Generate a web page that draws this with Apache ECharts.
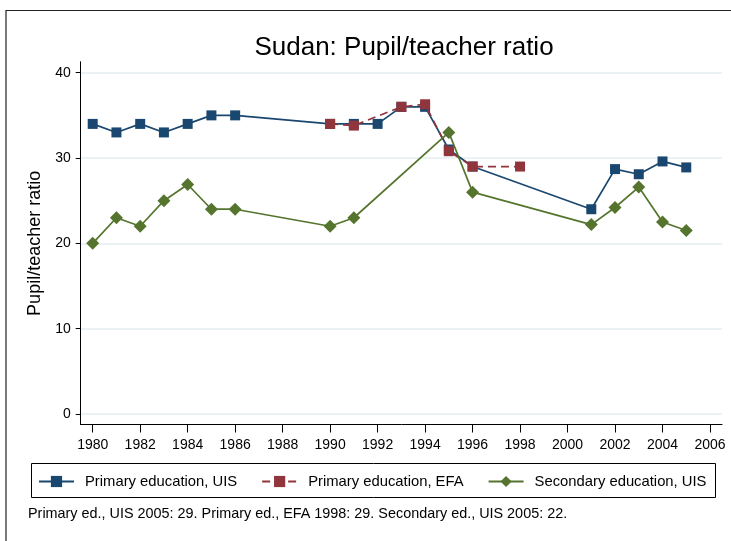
<!DOCTYPE html>
<html>
<head>
<meta charset="utf-8">
<script src="https://cdn.jsdelivr.net/npm/echarts@6/dist/echarts.min.js"></script>
<style>
  html, body { margin: 0; padding: 0; background: #fff; }
  #chart { width: 731px; height: 541px; }
</style>
</head>
<body>
<div id="chart"></div>
<script>
// 数据
const primaryUisYears = [1980, 1981, 1982, 1983, 1984, 1985, 1986, 1990, 1991, 1992, 1993, 1994, 1995, 1996, 2001, 2002, 2003, 2004, 2005];
const primaryUis = [34, 33, 34, 33, 34, 35, 35, 34, 34, 34, 36, 36, 31, 29, 24, 28.7, 28.1, 29.6, 28.9];

const primaryEfaYears = [1990, 1991, 1993, 1994, 1995, 1996, 1998];
const primaryEfa = [34, 33.8, 36, 36.3, 30.8, 29, 29];

const secondaryUisYears = [1980, 1981, 1982, 1983, 1984, 1985, 1986, 1990, 1991, 1995, 1996, 2001, 2002, 2003, 2004, 2005];
const secondaryUis = [20, 23, 22, 25, 26.9, 24, 24, 22, 23, 33, 26, 22.2, 24.2, 26.6, 22.5, 21.5];

const yTicks = [0, 10, 20, 30, 40];

const seriesNames = ['Primary education, UIS', 'Primary education, EFA', 'Secondary education, UIS'];
const note = 'Primary ed., UIS 2005: 29. Primary ed., EFA 1998: 29. Secondary ed., UIS 2005: 22.';

const FONT = '"Liberation Sans", Arial, sans-serif';
const NAVY = '#1a476f', MAROON = '#90353b', GREEN = '#55752f';

/** 年份与数值配对 */
function pairs(xs, ys) {
	return xs.map((x, i) => [x, ys[i]]);
}

const chart = echarts.init(document.getElementById('chart'), null, { renderer: 'canvas' });

const option = {
	animation: false,
	backgroundColor: '#fff',
	textStyle: { fontFamily: FONT, color: '#000' },
	title: {
		text: 'Sudan: Pupil/teacher ratio',
		left: 399,
		textAlign: 'center',
		top: 30,
		textStyle: { fontFamily: FONT, fontSize: 26, fontWeight: 'normal', color: '#000' }
	},
	// 0: 数据网格（刻度、标签）；1: 外框网格（轴线、网格线）
	grid: [
		{ left: 92.7, right: 21, top: 72.7, bottom: 127 },
		{ left: 80.7, right: 9, top: 61.7, bottom: 116.5 }
	],
	xAxis: [
		{
			type: 'value', gridIndex: 0, min: 1980, max: 2006, interval: 2,
			offset: 10.5,
			axisLine: { show: false, onZero: false },
			axisTick: { show: true, length: 8, lineStyle: { color: '#000', width: 1 } },
			axisLabel: { fontFamily: FONT, fontSize: 14, color: '#000', margin: 14, formatter: v => String(v) },
			splitLine: { show: false }
		},
		{
			type: 'value', gridIndex: 1, min: 1979.49, max: 2006.5,
			axisLine: { show: true, onZero: false, lineStyle: { color: '#000', width: 1 } },
			axisTick: { show: false }, axisLabel: { show: false }, splitLine: { show: false }
		}
	],
	yAxis: [
		{
			type: 'value', gridIndex: 0, min: 0, max: 40, interval: 10,
			offset: 12,
			name: 'Pupil/teacher ratio',
			nameLocation: 'middle',
			nameGap: 36,
			nameTextStyle: { fontFamily: FONT, fontSize: 18, color: '#000' },
			axisLine: { show: false, onZero: false },
			axisTick: { show: true, length: 5, lineStyle: { color: '#000', width: 1 } },
			axisLabel: { fontFamily: FONT, fontSize: 14, color: '#000', margin: 10 },
			splitLine: { show: false }
		},
		{
			type: 'value', gridIndex: 1, min: -1.23, max: 41.29,
			axisLine: { show: true, onZero: false, lineStyle: { color: '#000', width: 1 } },
			axisTick: { show: false }, axisLabel: { show: false }, splitLine: { show: false }
		}
	],
	legend: {
		data: seriesNames,
		left: 38,
		top: 474,
		itemWidth: 35,
		itemHeight: 14,
		itemGap: 24,
		padding: 0,
		textStyle: { fontFamily: FONT, fontSize: 14.8, color: '#000', padding: [0, 0, 0, 6] }
	},
	graphic: [
		{
			type: 'rect', silent: true, z: -10,
			shape: { x: 6, y: 10.5, width: 900, height: 700 },
			style: { fill: null, stroke: '#222', lineWidth: 1.2 }
		},
		{
			type: 'rect', silent: true,
			shape: { x: 31.5, y: 463.5, width: 684, height: 34 },
			style: { fill: null, stroke: '#000', lineWidth: 1 }
		},
		{
			type: 'text', left: 28, top: 507, silent: true,
			style: { text: note, font: '14.4px ' + FONT, fill: '#000' }
		}
	],
	series: [
		{
			// 网格线
			type: 'line', xAxisIndex: 1, yAxisIndex: 1, data: [], silent: true, z: 0,
			markLine: {
				silent: true, symbol: 'none', label: { show: false }, z: 0,
				lineStyle: { color: '#e6eef1', width: 1.5, type: 'solid' },
				data: yTicks.map(v => ({ yAxis: v }))
			}
		},
		{
			name: seriesNames[0], type: 'line', xAxisIndex: 0, yAxisIndex: 0,
			data: pairs(primaryUisYears, primaryUis),
			symbol: 'rect', symbolSize: 10,
			itemStyle: { color: NAVY },
			lineStyle: { color: NAVY, width: 1.7 },
			z: 2
		},
		{
			name: seriesNames[1], type: 'line', xAxisIndex: 0, yAxisIndex: 0,
			data: pairs(primaryEfaYears, primaryEfa),
			symbol: 'rect', symbolSize: 10,
			itemStyle: { color: MAROON },
			lineStyle: { color: MAROON, width: 1.7, type: [8, 5] },
			z: 3
		},
		{
			name: seriesNames[2], type: 'line', xAxisIndex: 0, yAxisIndex: 0,
			data: pairs(secondaryUisYears, secondaryUis),
			symbol: 'diamond', symbolSize: 13,
			itemStyle: { color: GREEN },
			lineStyle: { color: GREEN, width: 1.7 },
			z: 4
		}
	]
};

chart.setOption(option);
</script>
</body>
</html>
